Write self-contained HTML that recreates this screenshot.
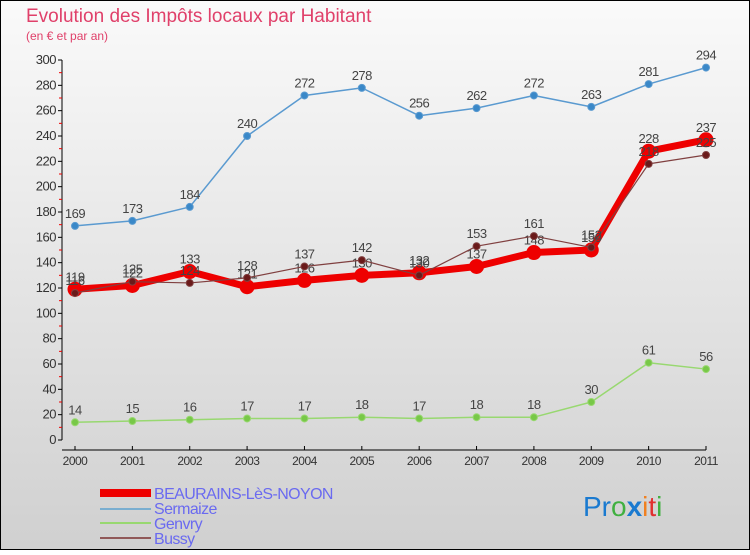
<!DOCTYPE html>
<html><head><meta charset="utf-8"><style>
body{margin:0;background:#fff}
svg text{font-family:"Liberation Sans",sans-serif}
</style></head><body>
<svg id="c" width="750" height="550" xmlns="http://www.w3.org/2000/svg">
<defs><linearGradient id="bg" x1="0" y1="0" x2="0" y2="1"><stop offset="0" stop-color="#fafafa"/><stop offset="1" stop-color="#d0d0d0"/></linearGradient></defs>
<rect x="0.5" y="0.5" width="749" height="549" fill="url(#bg)" stroke="#000"/>
<text x="26" y="22" font-size="19" fill="#e0406a">Evolution des Impôts locaux par Habitant</text>
<text x="26" y="40" font-size="12" fill="#e0406a">(en € et par an)</text>
<g id="axes"></g><g id="series"></g>
<g>
<rect x="100" y="489" width="51" height="8" fill="#e00"/>
<line x1="100" y1="509" x2="151" y2="509" stroke="#7aaed0" stroke-width="2"/>
<line x1="100" y1="523" x2="151" y2="523" stroke="#98d870" stroke-width="2"/>
<line x1="100" y1="538" x2="151" y2="538" stroke="#905858" stroke-width="2"/>
<text x="154" y="499" font-size="16" fill="#6a6af0" letter-spacing="-0.6">BEAURAINS-LèS-NOYON</text>
<text x="154" y="514" font-size="16" fill="#6a6af0" letter-spacing="-0.6">Sermaize</text>
<text x="154" y="529" font-size="16" fill="#6a6af0" letter-spacing="-0.6">Genvry</text>
<text x="154" y="544" font-size="16" fill="#6a6af0" letter-spacing="-0.6">Bussy</text>
</g>
<g font-size="28">
<text x="583" y="516"><tspan fill="#1a7ad0">Pr</tspan><tspan fill="#40b040">o</tspan><tspan fill="#1a7ad0" font-weight="bold">x</tspan><tspan fill="#f08020">i</tspan><tspan fill="#e03030">t</tspan><tspan fill="#40b040">i</tspan></text>
</g>
</svg>
<script>
const years=["2000","2001","2002","2003","2004","2005","2006","2007","2008","2009","2010","2011"];
const yTicks=[0,20,40,60,80,100,120,140,160,180,200,220,240,260,280,300];
const beaurains=[119,122,133,121,126,130,132,137,148,150,228,237];
const sermaize=[169,173,184,240,272,278,256,262,272,263,281,294];
const genvry=[14,15,16,17,17,18,17,18,18,30,61,56];
const bussy=[116,125,124,128,137,142,130,153,161,152,218,225];
const NS="http://www.w3.org/2000/svg";
const xS=i=>75+i*(706-75)/11;
const yS=v=>440-v*380/300;
function mk(t,a,p){const e=document.createElementNS(NS,t);for(const k in a)e.setAttribute(k,a[k]);p.appendChild(e);return e;}
const ax=document.getElementById('axes');
let l=mk('line',{x1:62,y1:yS(300),x2:62,y2:440,stroke:'#000'},ax);


l=mk('line',{x1:62,y1:450,x2:706,y2:450,stroke:'#000'},ax);


yTicks.forEach(v=>{
 mk('line',{x1:58,y1:yS(v),x2:62,y2:yS(v),stroke:'#000'},ax);
 if(v<300)mk('line',{x1:59,y1:yS(v+10),x2:62,y2:yS(v+10),stroke:'#e00'},ax);
 const t=mk('text',{x:56,y:yS(v)+4,'font-size':13,'text-anchor':'end',fill:'#333','letter-spacing':'-0.5'},ax);t.textContent=v;
 
 
});
years.forEach((y,i)=>{
 mk('line',{x1:xS(i),y1:446,x2:xS(i),y2:450,stroke:'#000'},ax);
 const t=mk('text',{x:xS(i),y:465,'font-size':12,'text-anchor':'middle',fill:'#333','letter-spacing':'-0.5'},ax);t.textContent=y;
 
 
});
const sg=document.getElementById('series');
function series(name,data,color,w,r,dot){
 const g=mk('g',{},sg);
 
 
 const pl=mk('polyline',{points:data.map((v,i)=>xS(i)+','+yS(v)).join(' '),fill:'none',stroke:color,'stroke-width':w,'stroke-linejoin':'round'},g);
 
 
 data.forEach((v,i)=>{
  const c=mk('circle',{cx:xS(i),cy:yS(v),r:r,fill:dot,stroke:color,'stroke-width':1},g);
  
  
  const t=mk('text',{x:xS(i),y:yS(v)-8,'font-size':13,'text-anchor':'middle',fill:'#444','letter-spacing':'-0.5'},g);t.textContent=v;
  
  
 });
}
series('sermaize',sermaize,'#5a9ad0',1.5,3.5,'#3a88c8');
series('genvry',genvry,'#98d870',1.5,3.5,'#78c848');
series('beaurains',beaurains,'#ee0000',7,7,'#ee0000');
series('bussy',bussy,'#804040',1.2,3.5,'#6a1a1a');
</script>
</body></html>
